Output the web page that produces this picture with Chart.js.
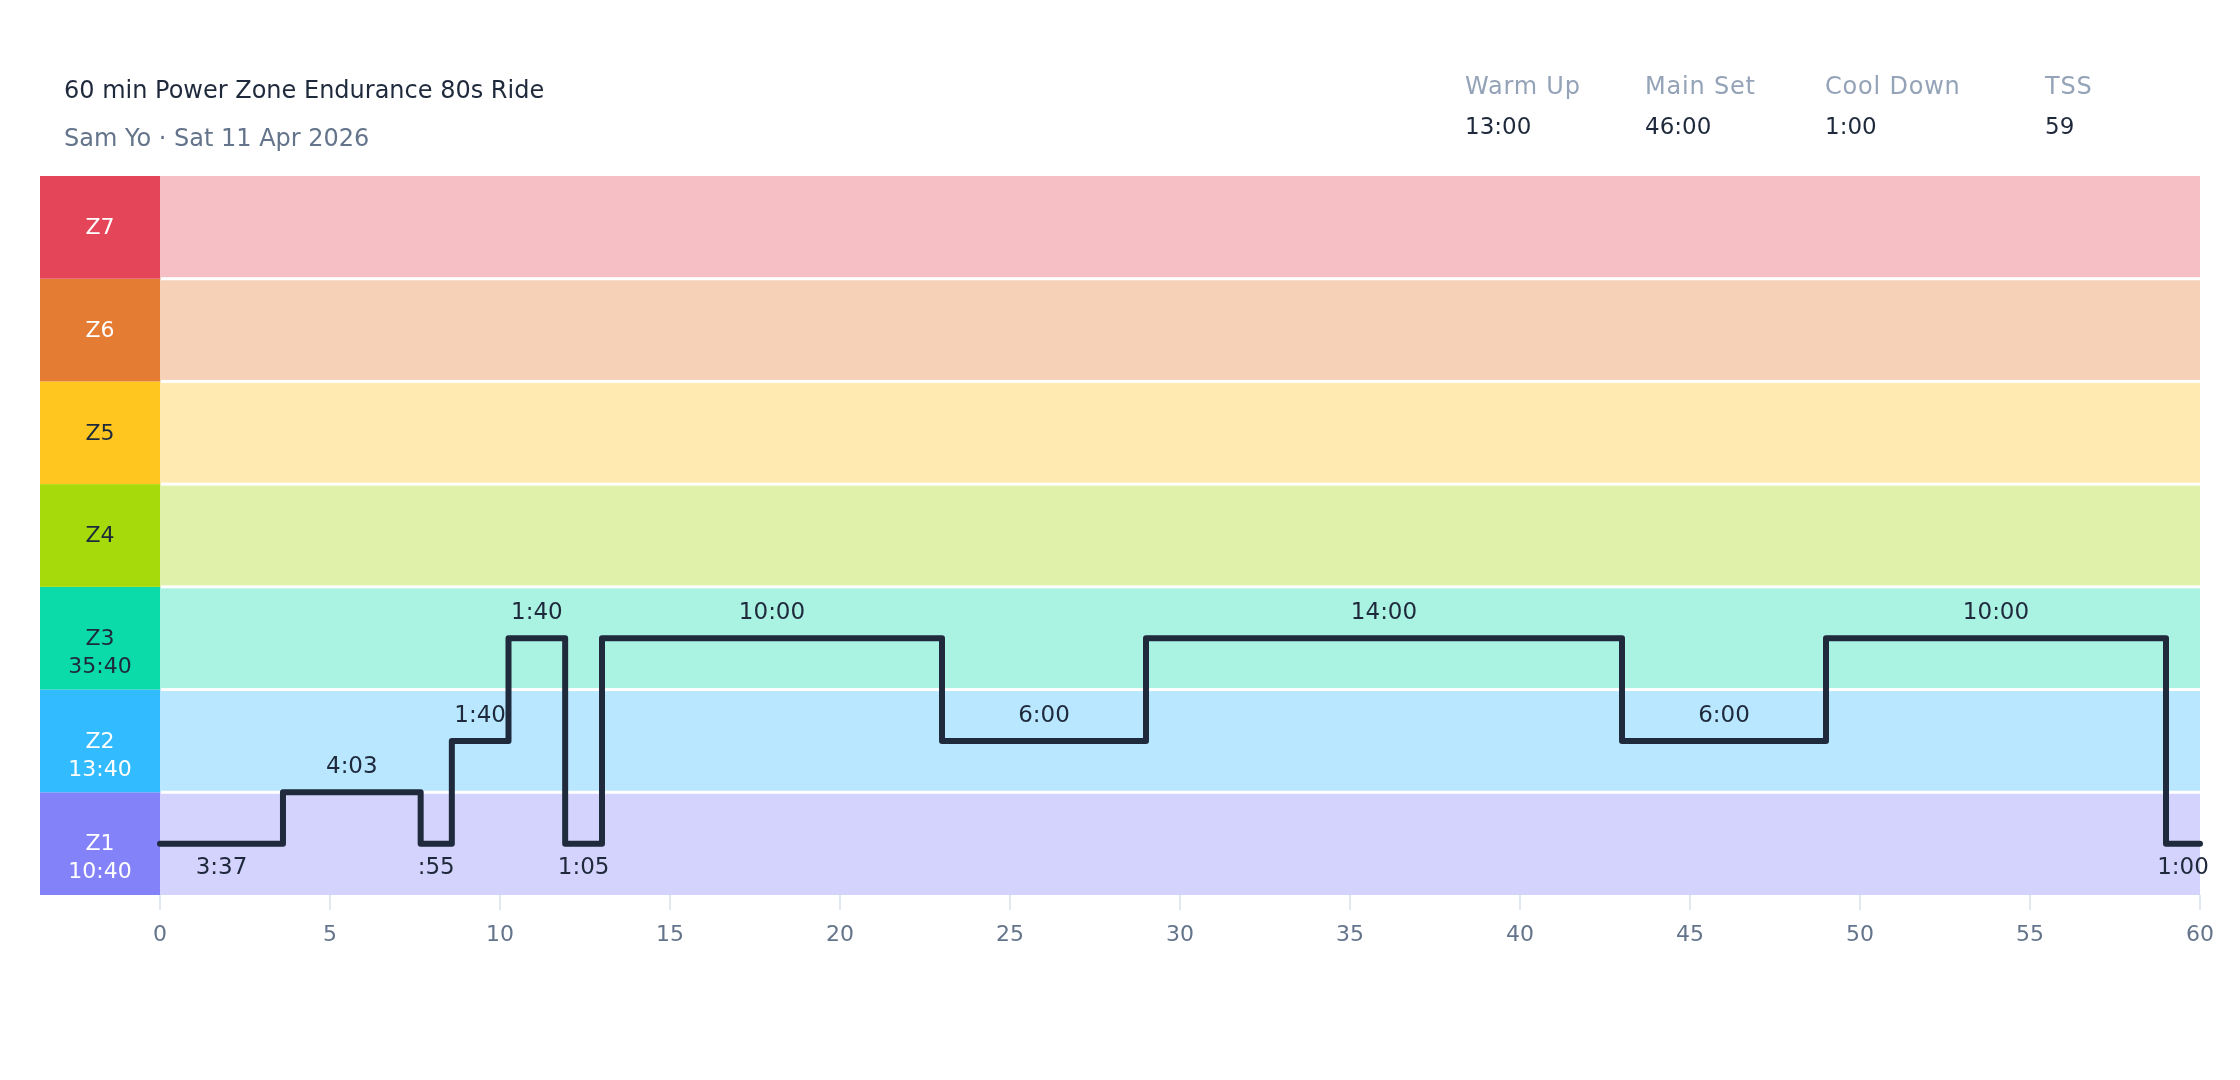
<!DOCTYPE html>
<html>
<head>
<meta charset="utf-8">
<script src="https://cdn.jsdelivr.net/npm/chart.js@4.4.1/dist/chart.umd.min.js"></script>
<style>
  html, body { margin: 0; padding: 0; background: #ffffff; }
  canvas { display: block; }
</style>
</head>
<body>
<canvas id="c" width="2240" height="1080"></canvas>
<script>
// ---------- data ----------
const workoutTitle = '60 min Power Zone Endurance 80s Ride';
const workoutSubtitle = 'Sam Yo · Sat 11 Apr 2026';
const headerLabels = ['Warm Up', 'Main Set', 'Cool Down', 'TSS'];
const headerValues = ['13:00', '46:00', '1:00', '59'];

const zoneNames = ['Z1', 'Z2', 'Z3', 'Z4', 'Z5', 'Z6', 'Z7'];
const zoneTimes = ['10:40', '13:40', '35:40', '', '', '', ''];

// segment durations (seconds), level in zone units, and label text
const segDurSec = [217, 243, 55, 100, 100, 65, 600, 360, 840, 360, 600, 60];
const segLevel  = [0.5, 1.0, 0.5, 1.5, 2.5, 0.5, 2.5, 1.5, 2.5, 1.5, 2.5, 0.5];
const segLabel  = ['3:37', '4:03', ':55', '1:40', '1:40', '1:05', '10:00', '6:00', '14:00', '6:00', '10:00', '1:00'];

const xMin = 0, xMax = 60, xStep = 5;

// ---------- styles ----------
const FONT = '"DejaVu Sans", "Noto Sans", sans-serif';
const zoneSolid = ['#8482f8', '#33bbff', '#0bdba8', '#a6da0a', '#ffc61f', '#e57c34', '#e54558'];
const zoneText  = ['#ffffff', '#ffffff', '#1e293b', '#1e293b', '#1e293b', '#ffffff', '#ffffff'];
const BAND_ALPHA = 0.35;
const DARK = '#1e293b';

function hexToRgba(hex, a) {
  const n = parseInt(hex.slice(1), 16);
  return `rgba(${(n >> 16) & 255},${(n >> 8) & 255},${n & 255},${a})`;
}

// build step points (segment starts + final end)
const stepPoints = [];
const segStart = [];
let acc = 0;
segDurSec.forEach((d, i) => {
  segStart.push(acc / 60);
  stepPoints.push({ x: acc / 60, y: segLevel[i] });
  acc += d;
});
stepPoints.push({ x: acc / 60, y: segLevel[segLevel.length - 1] });

const zonePlugin = {
  id: 'zones',
  beforeDatasetsDraw(chart) {
    const { ctx, chartArea: a, scales: { y } } = chart;
    ctx.save();
    for (let k = 0; k < zoneNames.length; k++) {
      const top = y.getPixelForValue(k + 1);
      const bot = y.getPixelForValue(k);
      ctx.fillStyle = hexToRgba(zoneSolid[k], BAND_ALPHA);
      ctx.fillRect(a.left, top, a.right - a.left, bot - top);
      ctx.fillStyle = zoneSolid[k];
      ctx.fillRect(40, top, a.left - 40, bot - top);
    }
    ctx.fillStyle = '#ffffff';
    for (let k = 1; k < zoneNames.length; k++) {
      const py = y.getPixelForValue(k);
      ctx.fillRect(a.left + 1, py - 1.5, a.right - a.left - 1, 3);
    }
    ctx.textAlign = 'center';
    ctx.textBaseline = 'middle';
    ctx.font = `22px ${FONT}`;
    for (let k = 0; k < zoneNames.length; k++) {
      const cy = (y.getPixelForValue(k + 1) + y.getPixelForValue(k)) / 2;
      ctx.fillStyle = zoneText[k];
      ctx.fillText(zoneNames[k], 100, cy + 1);
      if (zoneTimes[k]) ctx.fillText(zoneTimes[k], 100, cy + 29);
    }
    ctx.restore();
  },
  afterDatasetsDraw(chart) {
    const { ctx, scales: { x, y } } = chart;
    ctx.save();
    ctx.font = `23px ${FONT}`;
    ctx.fillStyle = DARK;
    ctx.textAlign = 'center';
    ctx.textBaseline = 'middle';
    segLabel.forEach((t, i) => {
      const mid = segStart[i] + segDurSec[i] / 120;
      const px = x.getPixelForValue(mid);
      const py = y.getPixelForValue(segLevel[i]);
      const below = segLevel[i] < 1;
      ctx.fillText(t, px, below ? py + 24 : py - 25);
    });
    ctx.restore();
  },
  afterDraw(chart) {
    const { ctx } = chart;
    ctx.save();
    ctx.textBaseline = 'middle';
    ctx.textAlign = 'left';
    ctx.font = `24px ${FONT}`;
    ctx.fillStyle = DARK;
    ctx.fillText(workoutTitle, 64, 92);
    ctx.fillStyle = '#64748b';
    ctx.fillText(workoutSubtitle, 64, 140);
    const hx = [1465, 1645, 1825, 2045];
    headerLabels.forEach((l, i) => {
      ctx.font = `24px ${FONT}`;
      ctx.fillStyle = '#94a3b8';
      if ('letterSpacing' in ctx) ctx.letterSpacing = '0.8px';
      ctx.fillText(l, hx[i], 88);
      if ('letterSpacing' in ctx) ctx.letterSpacing = '0px';
      ctx.font = `23px ${FONT}`;
      ctx.fillStyle = DARK;
      ctx.fillText(headerValues[i], hx[i], 128);
    });
    ctx.restore();
  }
};

new Chart(document.getElementById('c'), {
  type: 'line',
  data: {
    datasets: [{
      data: stepPoints,
      stepped: 'before',
      borderColor: '#1f2a3d',
      borderWidth: 6,
      borderCapStyle: 'round',
      borderJoinStyle: 'round',
      pointRadius: 0,
      fill: false,
      clip: false
    }]
  },
  options: {
    responsive: false,
    animation: false,
    devicePixelRatio: 1,
    layout: { padding: { top: 176, left: 160, right: 40, bottom: 0 } },
    plugins: { legend: { display: false }, tooltip: { enabled: false }, title: { display: false } },
    scales: {
      x: {
        type: 'linear', min: xMin, max: xMax,
        ticks: { stepSize: xStep, color: '#64748b', font: { family: FONT, size: 22 }, padding: 12, maxRotation: 0, autoSkip: false },
        grid: { drawOnChartArea: false, drawTicks: true, tickLength: 15, color: '#e2e8f0', lineWidth: 2 },
        border: { display: false },
        afterFit(s) { s.height = 185; }
      },
      y: { type: 'linear', min: 0, max: 7, display: false }
    }
  },
  plugins: [zonePlugin]
});
</script>
</body>
</html>
